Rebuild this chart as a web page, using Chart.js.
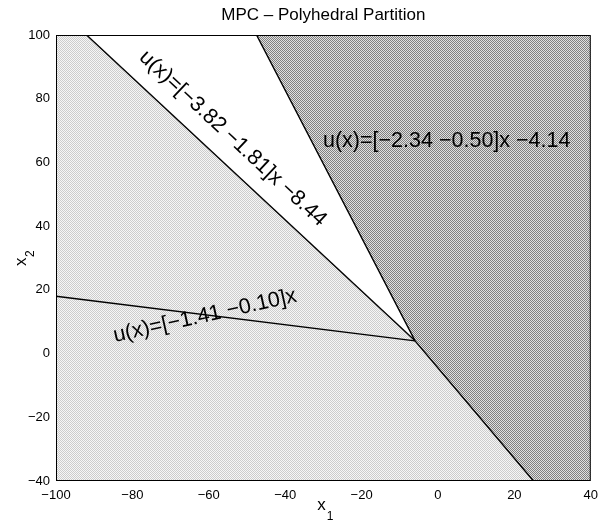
<!DOCTYPE html>
<html>
<head>
<meta charset="utf-8">
<script src="https://cdn.jsdelivr.net/npm/chart.js@4.4.1/dist/chart.umd.min.js"></script>
<style>
  html, body { margin: 0; padding: 0; background: #fff; }
  #wrap { width: 605px; height: 525px; }
</style>
</head>
<body>
<div id="wrap"><canvas id="myChart" width="605" height="525"></canvas></div>
<script>
// axis ranges and ticks
const xTicks = [-100, -80, -60, -40, -20, 0, 20, 40];
const yTicks = [-40, -20, 0, 20, 40, 60, 80, 100];

// region polygons (x1, x2)
const lightX = [-100, -92, -6, 25, -100];
const lightY = [100, 100, 4, -40, -40];
const whiteX = [-92, -47.5, -6];
const whiteY = [100, 100, 4];
const darkX = [-47.5, 40, 40, 25, -6];
const darkY = [100, 100, -40, -40, 4];

// boundary lines
const lineAX = [-100, -6];
const lineAY = [18, 4];
const lineBX = [-92, -6];
const lineBY = [100, 4];
const lineCX = [-47.5, -6, 25];
const lineCY = [100, 4, -40];

// region labels: text, x1, x2, angle (deg), align
const labelText = ['u(x)=[\u22123.82 \u22121.81]x \u22128.44', 'u(x)=[\u22122.34 \u22120.50]x \u22124.14', 'u(x)=[\u22121.41 \u22120.10]x'];
const labelX = [-53.7, -30.1, -61];
const labelY = [67.5, 66.7, 11.8];
const labelAngle = [43, 0, -12.5];
const labelAlign = ['center', 'left', 'center'];

const FONT = "'Liberation Sans', Arial, Helvetica, sans-serif";

function pts(xs, ys) {
	return xs.map(function (x, i) { return { x: x, y: ys[i] }; });
}

function makePattern(a, b) {
	let c = document.createElement('canvas');
	c.width = 2; c.height = 2;
	let g = c.getContext('2d');
	g.fillStyle = b; g.fillRect(0, 0, 2, 2);
	g.fillStyle = a; g.fillRect(0, 0, 1, 1); g.fillRect(1, 1, 1, 1);
	return g.createPattern(c, 'repeat');
}

const lightPat = makePattern('#cccccc', '#f6f6f6');
const darkPat = makePattern('#808080', '#e0e0e0');

function minus(v) { return String(v).replace('-', '\u2212'); }

const decor = {
	id: 'decor',
	afterDatasetsDraw(chart) {
		const ctx = chart.ctx, a = chart.chartArea;
		const xs = chart.scales.x, ys = chart.scales.y;
		ctx.save();
		ctx.strokeStyle = '#000';
		ctx.lineWidth = 1;
		ctx.strokeRect(a.left + 0.5, a.top + 0.5, a.right - a.left - 1, a.bottom - a.top - 1);
		ctx.fillStyle = '#000';
		ctx.font = '21.5px ' + FONT;
		ctx.textBaseline = 'middle';
		labelText.forEach(function (t, i) {
			ctx.save();
			ctx.translate(xs.getPixelForValue(labelX[i]), ys.getPixelForValue(labelY[i]));
			ctx.rotate(labelAngle[i] * Math.PI / 180);
			ctx.textAlign = labelAlign[i];
			ctx.fillText(t, 0, 0);
			ctx.restore();
		});
		// title centred over plot area
		ctx.textBaseline = 'alphabetic';
		ctx.font = '17px ' + FONT;
		ctx.textAlign = 'center';
		ctx.fillText('MPC \u2013 Polyhedral Partition', (a.left + a.right) / 2, 20);
		// axis titles with subscripts
		ctx.textAlign = 'left';
		let cx = (a.left + a.right) / 2;
		let w = ctx.measureText('x').width;
		ctx.fillText('x', cx - w / 2 - 2, 510);
		ctx.font = '12px ' + FONT;
		ctx.fillText('1', cx + w / 2 - 1, 520);
		ctx.save();
		ctx.translate(26, (a.top + a.bottom) / 2 + 8);
		ctx.rotate(-Math.PI / 2);
		ctx.font = '17px ' + FONT;
		ctx.fillText('x', 0, 0);
		ctx.font = '12px ' + FONT;
		ctx.fillText('2', w + 0.5, 8);
		ctx.restore();
		ctx.restore();
	}
};

let ctx = document.getElementById('myChart').getContext('2d');
let config = {
	type: 'scatter',
	data: {
		datasets: [
			{ data: pts(lineAX, lineAY), showLine: true, borderColor: '#000', borderWidth: 1.4, pointRadius: 0, fill: false, order: 0 },
			{ data: pts(lineBX, lineBY), showLine: true, borderColor: '#000', borderWidth: 1.4, pointRadius: 0, fill: false, order: 0 },
			{ data: pts(lineCX, lineCY), showLine: true, borderColor: '#000', borderWidth: 1.4, pointRadius: 0, fill: false, order: 0 },
			{ data: pts(whiteX, whiteY), showLine: true, borderWidth: 0, pointRadius: 0, fill: 'shape', backgroundColor: '#ffffff', order: 1 },
			{ data: pts(darkX, darkY), showLine: true, borderWidth: 0, pointRadius: 0, fill: 'shape', backgroundColor: darkPat, order: 2 },
			{ data: pts(lightX, lightY), showLine: true, borderWidth: 0, pointRadius: 0, fill: 'shape', backgroundColor: lightPat, order: 3 }
		]
	},
	options: {
		responsive: false,
		animation: false,
		layout: { padding: { top: 35, right: 14, left: 0, bottom: 0 } },
		plugins: { legend: { display: false }, tooltip: { enabled: false } },
		scales: {
			x: {
				type: 'linear',
				min: xTicks[0], max: xTicks[xTicks.length - 1],
				grid: { display: false, drawTicks: false },
				border: { display: false },
				ticks: { stepSize: 20, padding: 7, color: '#000', font: { family: FONT, size: 13 }, callback: minus },
				afterFit: function (s) { s.height = 44; }
			},
			y: {
				type: 'linear',
				min: yTicks[0], max: yTicks[yTicks.length - 1],
				grid: { display: false, drawTicks: false },
				border: { display: false },
				ticks: { stepSize: 20, padding: 6, color: '#000', font: { family: FONT, size: 13 }, callback: minus },
				afterFit: function (s) { s.width = 56; }
			}
		}
	},
	plugins: [decor]
};

var myChart = new Chart(ctx, config);
</script>
</body>
</html>
